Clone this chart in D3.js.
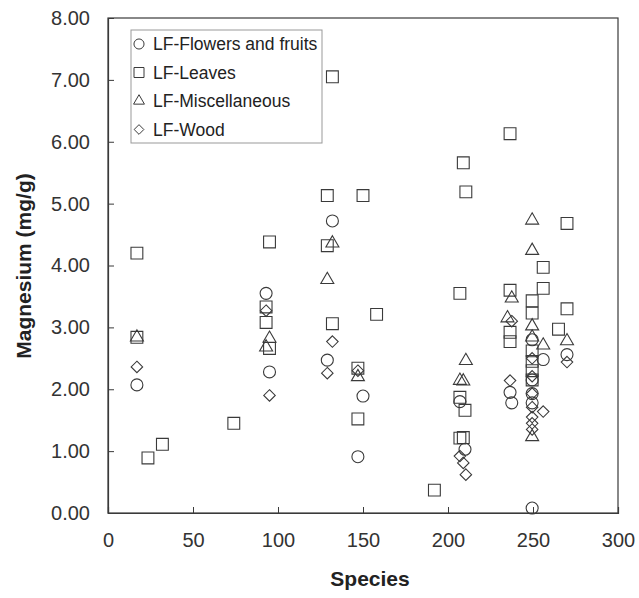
<!DOCTYPE html>
<html>
<head>
<meta charset="utf-8">
<script src="https://cdn.jsdelivr.net/npm/d3@7"></script>
<style>
  body { margin: 0; background: #fff; }
  text { font-family: "Liberation Sans", Arial, sans-serif; }
</style>
</head>
<body>
<div id="chart-area"></div>
<script>
// species number, magnesium (mg/g)
var flowers = [
  [17, 2.07], [93, 3.55], [95, 2.28], [132, 4.72], [129, 2.47], [150, 1.89],
  [147, 0.91], [207, 1.80], [210, 1.03], [236.5, 1.95], [237.5, 1.78],
  [249.5, 2.80], [249.5, 2.15], [249.5, 1.93], [249.5, 1.78], [249.5, 0.08],
  [256, 2.48], [270, 2.56]
];
var leaves = [
  [17, 4.20], [17, 2.84], [23.5, 0.89], [32, 1.11], [74, 1.45], [95, 4.38],
  [93, 3.33], [93, 3.08], [95, 2.66], [132, 7.05], [129, 5.13], [150, 5.13],
  [129, 4.32], [158, 3.21], [132, 3.06], [147, 2.34], [147, 1.52], [192, 0.37],
  [209, 5.66], [210.5, 5.19], [207, 3.55], [207, 1.87], [210, 1.66], [207, 1.21],
  [209, 1.22], [236.5, 6.13], [236.5, 3.60], [236.5, 2.92], [236.5, 2.77],
  [249.5, 3.43], [249.5, 3.23], [249.5, 2.62], [249.5, 2.45], [249.5, 2.30],
  [249.5, 2.15], [256, 3.97], [256, 3.63], [265, 2.97], [270, 4.68], [270, 3.30]
];
var misc = [
  [17, 2.84], [95, 2.82], [93, 2.68], [132, 4.36], [129, 3.77], [147, 2.20],
  [210.5, 2.46], [207, 2.14], [209, 2.13], [237.5, 3.47], [235, 3.15],
  [249.5, 4.73], [249.5, 4.24], [249.5, 3.02], [249.5, 2.84], [249.5, 1.23],
  [256, 2.71], [270, 2.78]
];
var wood = [
  [17, 2.36], [93, 3.27], [95, 1.90], [132, 2.77], [129, 2.26], [147, 2.30],
  [207, 0.92], [209, 0.81], [210.5, 0.62], [237.5, 3.10], [236.5, 2.14],
  [249.5, 2.50], [249.5, 2.21], [249.5, 1.93], [249.5, 1.71], [249.5, 1.55],
  [249.5, 1.45], [249.5, 1.35], [256, 1.64], [270, 2.44]
];
var seriesNames = ["LF-Flowers and fruits", "LF-Leaves", "LF-Miscellaneous", "LF-Wood"];
var xTicks = [0, 50, 100, 150, 200, 250, 300];
var yTicks = [0, 1, 2, 3, 4, 5, 6, 7, 8];

var svg = d3.select("#chart-area").append("svg")
            .attr("width", 639)
            .attr("height", 598);

var x = d3.scaleLinear().domain([0, 300]).range([108, 618]);
var y = d3.scaleLinear().domain([0, 8]).range([513, 18]);

var ink = "#3a3a3a";

// plot frame
svg.append("rect")
   .attr("x", 108).attr("y", 18)
   .attr("width", 510).attr("height", 495)
   .attr("fill", "none").attr("stroke", ink).attr("stroke-width", 1.2);

var xAxis = svg.append("g")
   .attr("transform", "translate(0,513)")
   .call(d3.axisBottom(x).tickValues(xTicks).tickSize(-6).tickPadding(20).tickFormat(d3.format("d")));
var yAxis = svg.append("g")
   .attr("transform", "translate(108,0)")
   .call(d3.axisLeft(y).tickValues(yTicks).tickSize(-6).tickPadding(18).tickFormat(d3.format(".2f")));

[xAxis, yAxis].forEach((a) => {
  a.select(".domain").attr("stroke", ink).attr("stroke-width", 1.2);
  a.selectAll(".tick line").attr("stroke", ink);
  a.selectAll(".tick text")
   .attr("fill", "#333")
   .style("font-size", "20px")
   .style("font-family", "'Liberation Sans', Arial, sans-serif");
});
xAxis.selectAll(".tick").filter((d) => d == 0 || d == 300).select("line").remove();
yAxis.selectAll(".tick").filter((d) => d == 0 || d == 8).select("line").remove();

svg.append("text")
   .attr("x", 370).attr("y", 586)
   .attr("text-anchor", "middle")
   .attr("font-weight", "bold").attr("font-size", 21).attr("fill", "#222")
   .text("Species");
svg.append("text")
   .attr("transform", "translate(31,266) rotate(-90)")
   .attr("text-anchor", "middle")
   .attr("font-weight", "bold").attr("font-size", 21).attr("fill", "#222")
   .text("Magnesium (mg/g)");

var symbols = [d3.symbolCircle, d3.symbolSquare, d3.symbolTriangle2, d3.symbolDiamond2];
var sizes = [113, 140, 121, 84];
var data = [flowers, leaves, misc, wood];

data.forEach((pts, i) => {
  svg.append("g").selectAll("path")
     .data(pts)
     .enter()
     .append("path")
       .attr("d", d3.symbol().type(symbols[i]).size(sizes[i]))
       .attr("transform", (d) => "translate(" + x(d[0]) + "," + y(d[1]) + ")")
       .attr("fill", "none")
       .attr("stroke", ink)
       .attr("stroke-width", 1.1);
});

// legend
var legend = svg.append("g");
legend.append("rect")
   .attr("x", 131).attr("y", 30)
   .attr("width", 191).attr("height", 113)
   .attr("fill", "#fff").attr("stroke", "#999").attr("stroke-width", 1);
var legendSizes = [80, 100, 85, 60];
var rows = legend.selectAll(".row")
   .data(seriesNames)
   .enter()
   .append("g")
     .attr("transform", (d, i) => "translate(139," + (44 + i * 28.5) + ")");
rows.append("path")
   .attr("d", (d, i) => d3.symbol().type(symbols[i]).size(legendSizes[i])())
   .attr("fill", "none").attr("stroke", ink).attr("stroke-width", 1);
rows.append("text")
   .attr("x", 14).attr("y", 6)
   .attr("font-size", 17.5).attr("fill", "#222")
   .text((d) => d);
</script>
</body>
</html>
